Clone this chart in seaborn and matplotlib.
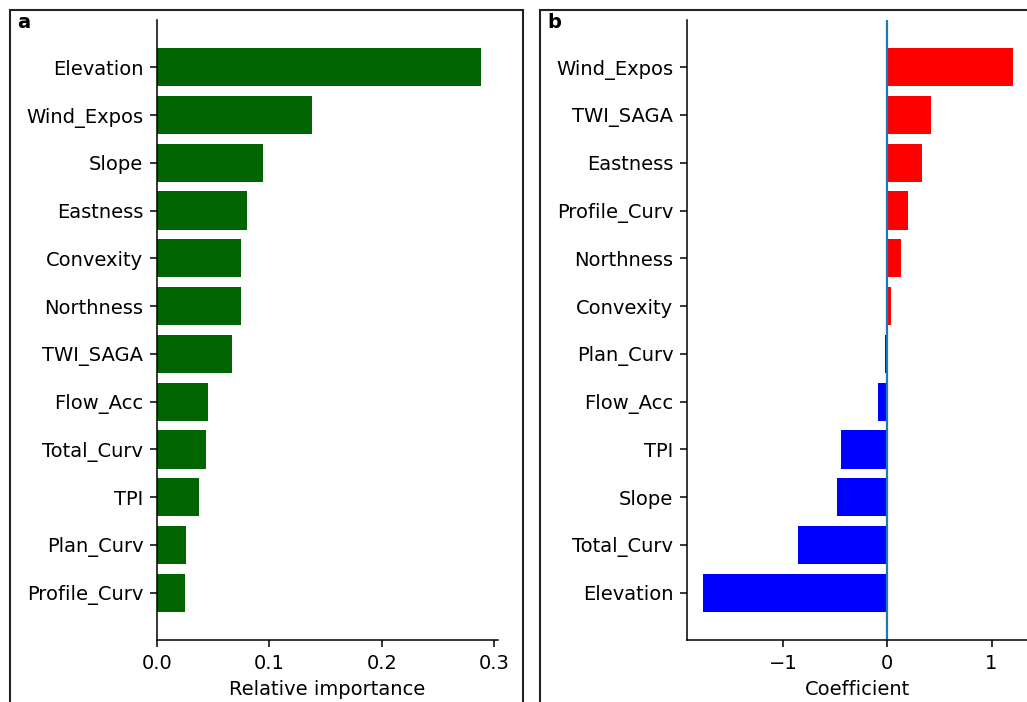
import matplotlib
matplotlib.use("Agg")
import matplotlib.pyplot as plt
from matplotlib.patches import Rectangle
import seaborn as sns

# Panel a: relative importance
imp_features = ["Elevation", "Wind_Expos", "Slope", "Eastness", "Convexity", "Northness",
                "TWI_SAGA", "Flow_Acc", "Total_Curv", "TPI", "Plan_Curv", "Profile_Curv"]
imp_values = [0.288, 0.138, 0.094, 0.080, 0.075, 0.075, 0.067, 0.045, 0.044, 0.037, 0.026, 0.025]

# Panel b: coefficients
coef_features = ["Wind_Expos", "TWI_SAGA", "Eastness", "Profile_Curv", "Northness", "Convexity",
                 "Plan_Curv", "Flow_Acc", "TPI", "Slope", "Total_Curv", "Elevation"]
coef_values = [1.21, 0.42, 0.33, 0.20, 0.135, 0.04, -0.025, -0.09, -0.44, -0.48, -0.86, -1.77]

sns.set_style("ticks")
fs = 14
plt.rcParams.update({
    "font.family": ["DejaVu Sans"],
    "font.size": fs,
    "text.color": "black",
    "axes.labelcolor": "black",
    "axes.edgecolor": "black",
    "xtick.color": "black",
    "ytick.color": "black",
    "axes.linewidth": 1.1,
})

fig = plt.figure(figsize=(10.27, 7.02), dpi=100)

# panel frames
for x0, w in [(10 / 1027, 513 / 1027), (540 / 1027, 520 / 1027)]:
    fig.add_artist(Rectangle((x0, -0.05), w, 1.05 - 10 / 702, transform=fig.transFigure,
                             fill=False, edgecolor="#222222", linewidth=1.5))

axa = fig.add_axes([157 / 1027, 1 - 640 / 702, 341 / 1027, 620 / 702])
axb = fig.add_axes([687 / 1027, 1 - 640 / 702, 341 / 1027, 620 / 702])

sns.barplot(x=imp_values, y=imp_features, color="#006400", saturation=1, width=0.8,
            linewidth=0, ax=axa)
colors_b = ["#ff0000" if v > 0 else "#0000ff" for v in coef_values]
sns.barplot(x=coef_values, y=coef_features, hue=coef_features, palette=colors_b,
            saturation=1, width=0.8, linewidth=0, legend=False, ax=axb)
axb.axvline(0, color="#1f77b4", linewidth=1.6)

for ax in (axa, axb):
    n = 12
    ax.set_ylim(n - 0.01, -0.99)
    ax.spines["top"].set_visible(False)
    ax.spines["right"].set_visible(False)
    ax.set_ylabel("")
    ax.tick_params(labelsize=fs, length=4.9, width=1.1, pad=4.9, colors="black")

axa.set_xlim(0, 0.3035)
axa.set_xticks([0.0, 0.1, 0.2, 0.3])
axa.set_xlabel("Relative importance", fontsize=fs, labelpad=5)
axb.set_xlim(-1.92, 1.35)
axb.set_xticks([-1, 0, 1])
axb.set_xlabel("Coefficient", fontsize=fs, labelpad=5)

fig.text(17 / 1027, 1 - 28 / 702, "a", fontweight="bold", fontsize=fs)
fig.text(547 / 1027, 1 - 28 / 702, "b", fontweight="bold", fontsize=fs)

fig.savefig("out.png", dpi=100)
